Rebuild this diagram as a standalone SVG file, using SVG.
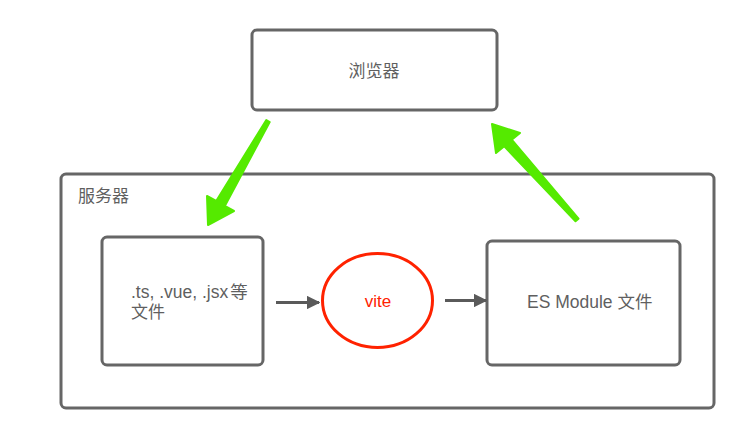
<svg xmlns="http://www.w3.org/2000/svg" width="747" height="429" viewBox="0 0 747 429">
<style>
.box{fill:#fff;stroke:#666;stroke-width:3}
.t{font-family:"Liberation Sans","Noto Sans CJK SC",sans-serif;font-size:17px;fill:#5f5f5f}
.g{fill:#55ea00;stroke:#55ea00;stroke-width:2;stroke-linejoin:round}
.gl{stroke:#5a5a5a;stroke-width:3;fill:none}
</style>
<defs>
<marker id="ah" viewBox="0 0 10 10" refX="9" refY="5" markerWidth="4.5" markerHeight="4.5" markerUnits="strokeWidth" orient="auto">
<path d="M0,0 L10,5 L0,10 Z" fill="#5a5a5a"/>
</marker>
</defs>
<rect width="747" height="429" fill="#fff"/>
<g id="server">
<rect class="box" x="61" y="174" width="653" height="234" rx="5"/>
<text class="t" x="78" y="202">服务器</text>
</g>
<g id="browser">
<rect class="box" x="252" y="30" width="245" height="80" rx="5"/>
<text class="t" x="374" y="77" text-anchor="middle">浏览器</text>
</g>
<g id="source">
<rect class="box" x="102" y="237" width="161" height="128" rx="5"/>
<text class="t" x="131" y="298" style="font-size:17.5px">.ts, .vue, .jsx<tspan dx="2">等</tspan></text>
<text class="t" x="131" y="318">文件</text>
</g>
<g id="vite">
<ellipse cx="377.5" cy="300.5" rx="55" ry="47" fill="#fff" stroke="#ff2200" stroke-width="3"/>
<text class="t" x="378" y="307" text-anchor="middle" style="fill:#ff2200">vite</text>
</g>
<g id="esm">
<rect class="box" x="487" y="241" width="193" height="124" rx="5"/>
<text class="t" x="527" y="308" style="font-size:17.5px">ES Module 文件</text>
</g>
<g id="connectors">
<line class="gl" x1="276" y1="302.5" x2="319" y2="302.5" marker-end="url(#ah)"/>
<line class="gl" x1="445" y1="300.5" x2="486" y2="300.5" marker-end="url(#ah)"/>
<polygon class="g" points="266.3,120 216.2,201 207,196 208,225 234,211 224.8,206 269.7,122"/>
<polygon class="g" points="575.5,221.3 504.25,146.3 496,153 492,124 520,133 511.75,139.7 578.5,218.7"/>
</g>
</svg>
